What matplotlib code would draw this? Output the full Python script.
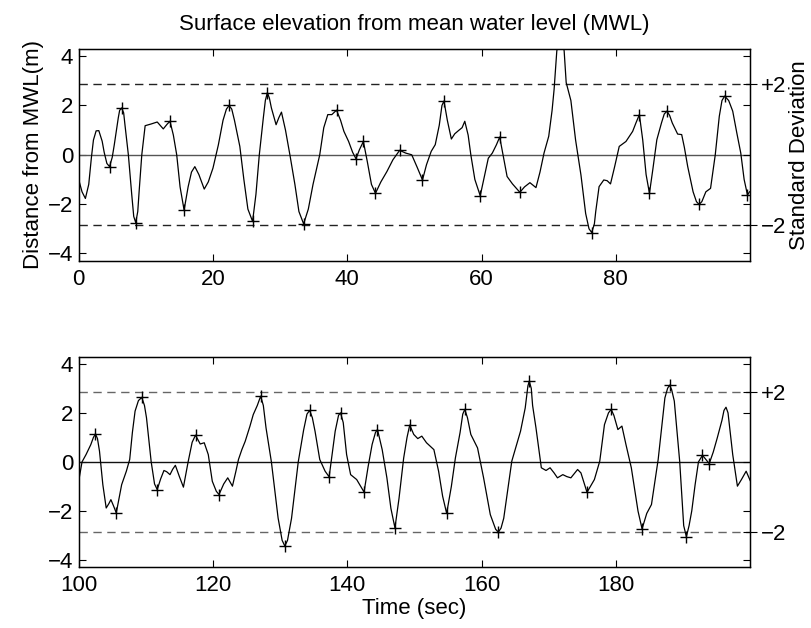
import matplotlib
matplotlib.use("Agg")
import matplotlib.pyplot as plt
import numpy as np

plt.rcParams['font.family'] = ['Liberation Sans', 'DejaVu Sans']

# ---- data ----
t_top = [0.0, 0.5, 1.0, 1.5, 1.9, 2.2, 2.6, 3.0, 3.5, 3.8, 4.2, 4.6, 5.0, 5.3, 5.9, 6.1, 6.4, 6.7, 6.9, 7.4, 7.9, 8.2, 8.5, 8.8, 9.0, 9.4,
         9.9, 10.8, 11.7, 12.6, 13.2, 13.6, 14.1, 14.6, 15.1, 15.7, 16.3, 16.8, 17.3, 17.9, 18.7, 19.3, 20.0,
         20.8, 21.5, 22.0, 22.4, 22.8, 23.2, 24.0, 24.6, 25.2, 25.9, 26.4, 26.9, 27.5, 27.8, 28.1, 28.4, 28.7, 29.4, 29.8, 30.2, 30.8,
         31.5, 32.2, 32.8, 33.5, 34.2, 34.9, 35.9, 36.5, 37.1, 37.7, 38.4, 39.0, 39.5, 40.2, 40.8, 41.3,
         41.8, 42.4, 43.0, 43.6, 44.2, 45.0, 45.9, 46.8, 47.8, 48.7, 49.6, 50.4, 51.2, 51.8, 52.5, 53.1,
         53.7, 54.1, 54.4, 54.9, 55.5, 56.0, 56.6, 57.1, 57.5, 58.0, 58.4, 59.0, 59.8, 60.4, 61.0, 61.6, 62.2,
         62.7, 63.2, 63.8, 64.6, 65.7, 66.4, 67.2, 68.1, 68.7, 69.3, 70.0, 70.5, 70.8, 71.2, 71.8, 72.3,
         72.6, 73.3, 74.0, 74.8, 75.5, 76.0, 76.4, 76.8, 77.0, 77.5, 78.2, 78.7, 79.2, 79.8, 80.5, 81.5, 82.5, 83.0,
         83.5, 84.0, 84.5, 85.0, 85.5, 86.1, 86.8, 87.2, 87.6, 88.0, 88.4, 89.2, 89.8, 90.2, 90.7, 91.5, 92.0, 92.4, 92.8, 93.4,
         94.1, 94.8, 95.4, 95.8, 96.2, 96.8, 97.4, 98.0, 98.6, 99.1, 99.6, 99.9]
v_top = [-1.0, -1.5, -1.77, -1.2, -0.1, 0.6, 0.97, 0.98, 0.55, 0.1, -0.35, -0.48, -0.1, 0.4, 1.5, 1.8, 1.9, 1.7, 1.2, 0.0, -1.6, -2.5, -2.75, -2.3, -1.5, 0.0,
         1.18, 1.25, 1.33, 1.05, 1.25, 1.36, 0.8, 0.0, -1.3, -2.24, -1.3, -0.7, -0.48, -0.8, -1.39, -1.1, -0.54,
         0.4, 1.4, 1.85, 2.0, 1.85, 1.4, 0.34, -1.0, -2.2, -2.7, -1.6, 0.0, 1.5, 2.2, 2.52, 2.3, 1.9, 1.22, 1.5, 1.73, 1.0,
         -0.07, -1.2, -2.3, -2.8, -2.2, -1.2, 0.0, 1.1, 1.63, 1.63, 1.81, 1.4, 0.95, 0.54, 0.1, -0.16,
         0.2, 0.54, -0.3, -1.2, -1.56, -1.1, -0.68, -0.2, 0.18, 0.07, 0.0, -0.5, -1.02, -0.4, 0.14, 0.41,
         1.2, 2.0, 2.18, 1.4, 0.64, 0.85, 0.99, 1.1, 1.36, 0.8, 0.0, -1.0, -1.66, -0.9, -0.14, 0.07, 0.4,
         0.72, 0.0, -0.88, -1.18, -1.52, -1.3, -1.13, -1.33, -0.7, 0.07, 0.75, 1.8, 2.65, 4.2, 5.3, 4.2,
         2.93, 2.2, 0.6, -0.82, -2.38, -3.0, -3.15, -2.8, -2.3, -1.29, -1.02, -1.05, -1.18, -0.5, 0.34, 0.54, 0.95, 1.3,
         1.63, 0.6, -0.8, -1.56, -0.6, 0.61, 1.3, 1.65, 1.77, 1.6, 1.29, 0.84, 0.82, 0.3, -0.48, -1.5, -1.9, -2.01, -1.9, -1.5,
         -1.36, 0.0, 1.56, 2.2, 2.38, 2.2, 1.77, 0.9, 0.07, -1.0, -1.63, -1.5]

t_bot = [100.0, 100.5, 101.1, 101.8, 102.2, 102.5, 102.8, 103.1, 103.6, 104.1, 104.5, 104.8, 105.2, 105.6, 106.0, 106.4,
         107.1, 107.6, 108.0, 108.4, 108.9, 109.4, 109.8, 110.1, 110.8, 111.3, 111.7, 112.2, 112.7, 113.1, 113.6, 114.0, 114.4,
         115.0, 115.6, 116.3, 116.9, 117.4, 118.1, 118.7, 119.3, 119.9, 120.5, 120.9, 121.6, 122.2, 122.9, 123.4,
         123.8, 124.3, 124.8, 125.5, 126.0, 126.6, 127.1, 127.5, 127.9, 128.7, 129.7, 130.3, 130.7, 131.1, 131.7, 132.7, 133.5,
         134.0, 134.4, 134.8, 135.2, 135.9, 136.7, 137.3, 138.2, 138.7, 139.0, 139.4, 139.9, 140.5, 141.4, 142.5, 143.1, 143.7, 144.2, 144.5,
         145.2, 145.9, 146.5, 147.1, 147.7, 148.4, 148.9, 149.3, 149.9, 150.5, 151.1, 151.8, 152.9, 153.6,
         154.2, 154.8, 155.5, 156.1, 156.8, 157.2, 157.5, 157.9, 158.4, 159.4, 160.3, 161.3, 162.1, 162.5, 162.9, 163.3, 164.5, 165.8,
         166.5, 166.9, 167.1, 167.4, 167.6, 168.1, 168.9, 169.6, 170.2, 170.8, 171.3, 172.1, 172.7, 173.3, 174.3, 174.8,
         175.7, 176.8, 177.6, 178.3, 178.9, 179.3, 179.7, 180.3, 180.9, 181.5, 182.3, 183.3, 183.9, 184.6, 185.3, 186.3,
         187.3, 187.7, 188.0, 188.3, 188.7, 189.5, 190.1, 190.5, 190.9, 191.3, 191.8, 192.3, 192.9, 193.4, 193.9, 194.5, 195.1, 195.8,
         196.1, 196.4, 196.7, 197.4, 198.1, 198.7, 199.4, 200.0]
v_bot = [-0.79, 0.0, 0.3, 0.7, 1.0, 1.14, 0.95, 0.44, -0.93, -1.88, -1.7, -1.54, -1.8, -2.08, -1.5, -0.93,
         -0.38, 0.1, 1.2, 2.07, 2.5, 2.63, 2.3, 1.8, 0.0, -0.9, -1.13, -0.7, -0.35, -0.4, -0.52, -0.3, -0.14,
         -0.6, -1.03, 0.0, 0.8, 1.09, 0.73, 0.78, 0.3, -0.79, -1.2, -1.33, -0.9, -0.65, -0.99, -0.4,
         0.1, 0.5, 0.84, 1.45, 1.93, 2.3, 2.68, 2.3, 1.39, 0.0, -2.29, -3.2, -3.43, -3.2, -2.3, 0.0, 1.3,
         1.95, 2.1, 1.8, 1.25, 0.1, -0.38, -0.61, 1.25, 1.9, 2.0, 1.6, 0.3, -0.52, -0.72, -1.23, -0.2, 0.71, 1.2, 1.32,
         0.5, -0.65, -1.9, -2.69, -1.5, 0.16, 1.0, 1.5, 1.12, 0.95, 1.05, 0.78, 0.5, -0.38,
         -1.4, -2.1, -1.0, 0.16, 1.2, 1.95, 2.14, 1.8, 1.12, 0.57, -0.65, -2.15, -2.75, -2.86, -2.7, -2.3, 0.03, 1.25,
         2.2, 3.1, 3.29, 3.0, 2.3, 1.39, -0.24, -0.35, -0.24, -0.45, -0.65, -0.52, -0.6, -0.65, -0.31, -0.45,
         -1.24, -0.72, 0.03, 1.52, 2.0, 2.14, 1.9, 1.32, 1.46, 0.71, -0.24, -2.01, -2.73, -2.1, -1.74, 0.1,
         2.61, 3.0, 3.13, 2.95, 2.48, 0.03, -2.6, -3.05, -2.6, -2.0, -0.93, 0.0, 0.27, 0.1, -0.07, 0.4, 0.98, 1.7,
         2.1, 2.23, 2.0, 0.3, -0.99, -0.72, -0.38, -0.76]

ext_t_top = [4.6, 6.4, 8.5, 13.6, 15.7, 22.4, 25.9, 28.1, 33.5, 38.4, 41.3, 42.4, 44.2, 47.8, 51.2,
             54.4, 59.8, 62.7, 65.7, 76.4, 83.5, 85.0, 87.6, 92.4, 96.2, 99.6]
ext_v_top = [-0.48, 1.9, -2.75, 1.36, -2.24, 2.0, -2.7, 2.52, -2.8, 1.81, -0.16, 0.54, -1.56, 0.18, -1.02,
             2.18, -1.66, 0.72, -1.52, -3.15, 1.63, -1.56, 1.77, -2.01, 2.38, -1.63]
ext_t_bot = [102.5, 105.6, 109.4, 111.7, 117.4, 120.9, 127.1, 130.7, 134.4, 137.3, 139.0, 142.5, 144.5,
             147.1, 149.3, 154.8, 157.5, 162.5, 167.1, 175.7, 179.3, 183.9, 188.0, 190.5, 192.9, 193.9]
ext_v_bot = [1.14, -2.08, 2.63, -1.13, 1.09, -1.33, 2.68, -3.43, 2.1, -0.61, 2.0, -1.23, 1.32,
             -2.69, 1.5, -2.1, 2.14, -2.86, 3.29, -1.24, 2.14, -2.73, 3.13, -3.05, 0.27, -0.07]

two_sigma = 2.86
ylim = 4.29
xlims = [(0, 100), (100, 200)]
xticks = [[0, 20, 40, 60, 80], [100, 120, 140, 160, 180]]
yticks = [-4, -2, 0, 2, 4]
sd_labels = ['\u22122', '+2']

fig = plt.figure(figsize=(8.11, 6.28), dpi=100)
positions = [[0.097, 0.585, 0.828, 0.337], [0.097, 0.097, 0.828, 0.335]]
series = [(t_top, v_top, ext_t_top, ext_v_top), (t_bot, v_bot, ext_t_bot, ext_v_bot)]
zero_col = ['#555555', '#111111']
dash_col = ['#222222', '#666666']
FS = 16

for i, (pos, (t, v, et, ev)) in enumerate(zip(positions, series)):
    ax = fig.add_axes(pos)
    ax.axhline(0, color=zero_col[i], lw=1.0)
    ax.axhline(two_sigma, color=dash_col[i], lw=1.0, ls=(0, (6, 4)))
    ax.axhline(-two_sigma, color=dash_col[i], lw=1.0, ls=(0, (6, 4)))
    ax.plot(t, v, color='black', lw=0.9)
    ax.plot(et, ev, ls='none', marker='+', ms=8, mew=1.0, color='black')
    ax.set_xlim(*xlims[i])
    ax.set_ylim(-ylim, ylim)
    ax.set_xticks(xticks[i])
    ax.set_yticks(yticks)
    ax.set_yticklabels(['\u22124', '\u22122', '0', '2', '4'])
    ax.tick_params(direction='in', top=True, right=False, length=5, labelsize=FS, width=0.8)
    ax.tick_params(axis='x', pad=6)
    ax.tick_params(axis='y', pad=4)
    for s in ax.spines.values():
        s.set_linewidth(1.0)
    # right-side standard deviation axis
    ax2 = ax.twinx()
    ax2.set_ylim(-ylim, ylim)
    ax2.set_yticks([-4, -2, 0, 2, 4], minor=True)
    ax2.tick_params(which='minor', direction='in', length=5, width=0.8)
    ax2.set_yticks([-two_sigma, two_sigma])
    ax2.set_yticklabels(sd_labels)
    ax2.tick_params(which='major', direction='inout', length=10, labelsize=FS, width=0.8, pad=3)
    if i == 0:
        ax.set_ylabel('Distance from MWL(m)', fontsize=FS, labelpad=3)
        ax2.set_ylabel('Standard Deviation', fontsize=FS, labelpad=2)
        ax.set_title('Surface elevation from mean water level (MWL)', fontsize=FS, pad=14)
    else:
        ax.set_xlabel('Time (sec)', fontsize=FS, labelpad=1)

fig.savefig('out.png', dpi=100)
